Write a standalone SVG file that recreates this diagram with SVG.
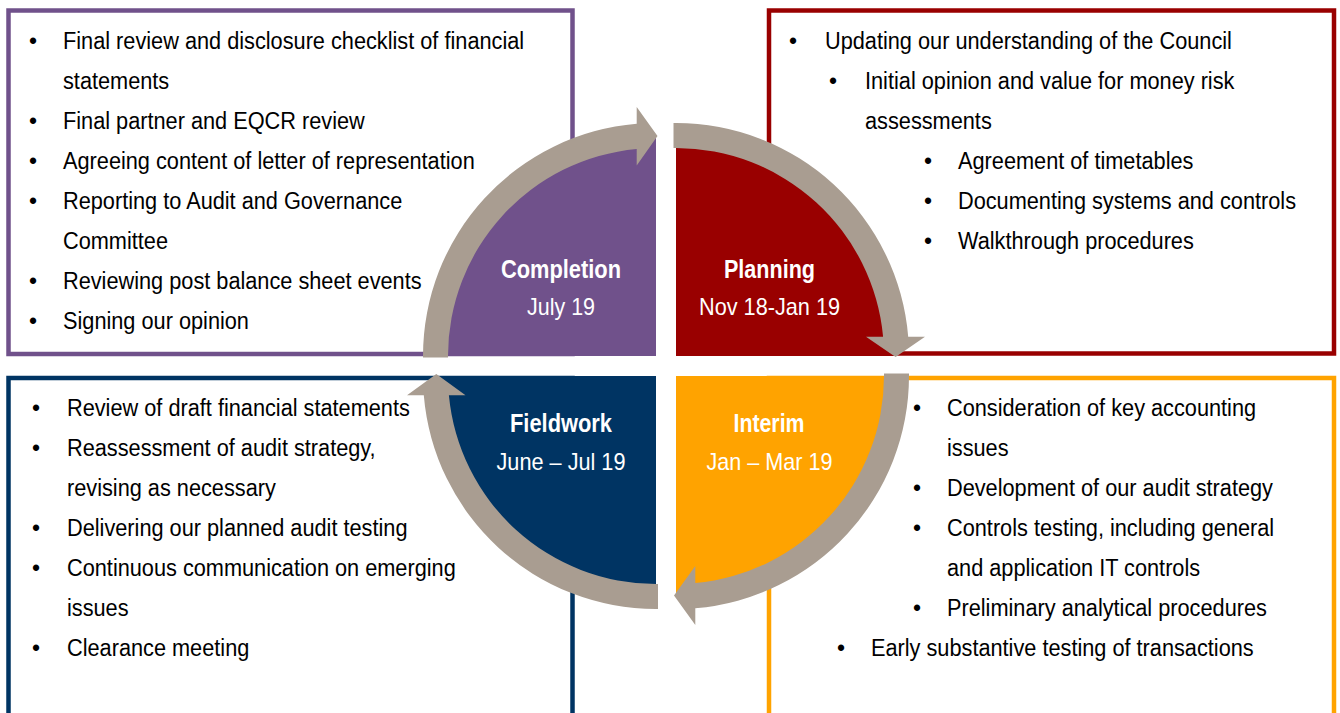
<svg xmlns="http://www.w3.org/2000/svg" width="1340" height="713" viewBox="0 0 1340 713">
<style>
.box{fill:none;stroke-width:4.5}
.t{font-family:"Liberation Sans",Arial,sans-serif;font-size:23px;fill:#000}
.b{font-family:"Liberation Sans",Arial,sans-serif;font-size:23px;fill:#000;text-anchor:middle}
.lh{font-family:"Liberation Sans",Arial,sans-serif;font-size:25px;font-weight:bold;fill:#fff;text-anchor:middle}
.ld{font-family:"Liberation Sans",Arial,sans-serif;font-size:24px;fill:#fff;text-anchor:middle}
.arrow{fill:#A99D91}
</style>
<rect width="1340" height="713" fill="#fff"/>
<g id="box-completion">
<rect class="box" x="8.5" y="10.5" width="564" height="343.5" stroke="#70518B"/>
<text class="b" x="33" y="48.5">•</text><text class="t" transform="matrix(0.945 0 0 1 63 48.5)">Final review and disclosure checklist of financial</text>
<text class="t" transform="matrix(0.945 0 0 1 63 88.5)">statements</text>
<text class="b" x="33" y="128.5">•</text><text class="t" transform="matrix(0.945 0 0 1 63 128.5)">Final partner and EQCR review</text>
<text class="b" x="33" y="168.5">•</text><text class="t" transform="matrix(0.945 0 0 1 63 168.5)">Agreeing content of letter of representation</text>
<text class="b" x="33" y="208.5">•</text><text class="t" transform="matrix(0.945 0 0 1 63 208.5)">Reporting to Audit and Governance</text>
<text class="t" transform="matrix(0.945 0 0 1 63 248.5)">Committee</text>
<text class="b" x="33" y="288.5">•</text><text class="t" transform="matrix(0.945 0 0 1 63 288.5)">Reviewing post balance sheet events</text>
<text class="b" x="33" y="328.5">•</text><text class="t" transform="matrix(0.945 0 0 1 63 328.5)">Signing our opinion</text>
</g>
<g id="box-planning">
<rect class="box" x="769" y="10.5" width="565" height="343" stroke="#990000"/>
<text class="b" x="793" y="48.5">•</text><text class="t" transform="matrix(0.945 0 0 1 825 48.5)">Updating our understanding of the Council</text>
<text class="b" x="833" y="88.5">•</text><text class="t" transform="matrix(0.945 0 0 1 865 88.5)">Initial opinion and value for money risk</text>
<text class="t" transform="matrix(0.945 0 0 1 865 128.5)">assessments</text>
<text class="b" x="928" y="168.5">•</text><text class="t" transform="matrix(0.945 0 0 1 958 168.5)">Agreement of timetables</text>
<text class="b" x="928" y="208.5">•</text><text class="t" transform="matrix(0.945 0 0 1 958 208.5)">Documenting systems and controls</text>
<text class="b" x="928" y="248.5">•</text><text class="t" transform="matrix(0.945 0 0 1 958 248.5)">Walkthrough procedures</text>
</g>
<g id="box-fieldwork">
<rect class="box" x="8.5" y="378" width="564" height="345" stroke="#003463"/>
<text class="b" x="36" y="416">•</text><text class="t" transform="matrix(0.945 0 0 1 67 416)">Review of draft financial statements</text>
<text class="b" x="36" y="456">•</text><text class="t" transform="matrix(0.945 0 0 1 67 456)">Reassessment of audit strategy,</text>
<text class="t" transform="matrix(0.945 0 0 1 67 496)">revising as necessary</text>
<text class="b" x="36" y="536">•</text><text class="t" transform="matrix(0.945 0 0 1 67 536)">Delivering our planned audit testing</text>
<text class="b" x="36" y="576">•</text><text class="t" transform="matrix(0.945 0 0 1 67 576)">Continuous communication on emerging</text>
<text class="t" transform="matrix(0.945 0 0 1 67 616)">issues</text>
<text class="b" x="36" y="656">•</text><text class="t" transform="matrix(0.945 0 0 1 67 656)">Clearance meeting</text>
</g>
<g id="box-interim">
<rect class="box" x="769" y="378" width="565" height="345" stroke="#FFA300"/>
<text class="b" x="917" y="416">•</text><text class="t" transform="matrix(0.945 0 0 1 947 416)">Consideration of key accounting</text>
<text class="t" transform="matrix(0.945 0 0 1 947 456)">issues</text>
<text class="b" x="917" y="496">•</text><text class="t" transform="matrix(0.945 0 0 1 947 496)">Development of our audit strategy</text>
<text class="b" x="917" y="536">•</text><text class="t" transform="matrix(0.945 0 0 1 947 536)">Controls testing, including general</text>
<text class="t" transform="matrix(0.945 0 0 1 947 576)">and application IT controls</text>
<text class="b" x="917" y="616">•</text><text class="t" transform="matrix(0.945 0 0 1 947 616)">Preliminary analytical procedures</text>
<text class="b" x="841" y="656">•</text><text class="t" transform="matrix(0.945 0 0 1 871 656)">Early substantive testing of transactions</text>
</g>
<g id="quadrant-completion">
<path d="M656 356 L436 356 A220 220 0 0 1 656 136 Z" fill="#70518B"/>
<text class="lh" x="561" y="278" textLength="120" lengthAdjust="spacingAndGlyphs">Completion</text>
<text class="ld" x="561" y="315" textLength="68" lengthAdjust="spacingAndGlyphs">July 19</text>
</g>
<g id="quadrant-planning">
<path d="M676 356 L676 136 A220 220 0 0 1 896 356 Z" fill="#990000"/>
<text class="lh" x="769.5" y="278" textLength="91" lengthAdjust="spacingAndGlyphs">Planning</text>
<text class="ld" x="769.5" y="315" textLength="141" lengthAdjust="spacingAndGlyphs">Nov 18-Jan 19</text>
</g>
<g id="quadrant-interim">
<path d="M676 376 L896 376 A220 220 0 0 1 676 596 Z" fill="#FFA300"/>
<text class="lh" x="769" y="432" textLength="71" lengthAdjust="spacingAndGlyphs">Interim</text>
<text class="ld" x="769.5" y="470" textLength="126" lengthAdjust="spacingAndGlyphs">Jan – Mar 19</text>
</g>
<g id="quadrant-fieldwork">
<path d="M656 376 L656 596 A220 220 0 0 1 436 376 Z" fill="#003463"/>
<text class="lh" x="561" y="432" textLength="102" lengthAdjust="spacingAndGlyphs">Fieldwork</text>
<text class="ld" x="561" y="470" textLength="129" lengthAdjust="spacingAndGlyphs">June – Jul 19</text>
</g>
<g id="connectors">
<path class="arrow" d="M423 357.5 L423 356 A233 233 0 0 1 636.7 123.8 L636.7 107 L657.5 136 L636.7 165.5 L636.7 148.9 A208 208 0 0 0 448 356 L448 357.5 Z"/>
<path class="arrow" d="M673.5 123 L676 123 A233 233 0 0 1 908.2 336.7 L925 336.7 L895.6 357 L866 336.7 L883.1 336.7 A208 208 0 0 0 676 148 L673.5 148 Z"/>
<path class="arrow" d="M909 373.5 L909 376 A233 233 0 0 1 695.3 608.2 L695.3 625 L674 595.6 L695.3 566 L695.3 583.1 A208 208 0 0 0 884 376 L884 373.5 Z"/>
<path class="arrow" d="M658 609 L656 609 A233 233 0 0 1 423.8 395.3 L407 395.3 L436.3 374 L465.5 395.3 L448.9 395.3 A208 208 0 0 0 656 584 L658 584 Z"/>
</g>
</svg>
